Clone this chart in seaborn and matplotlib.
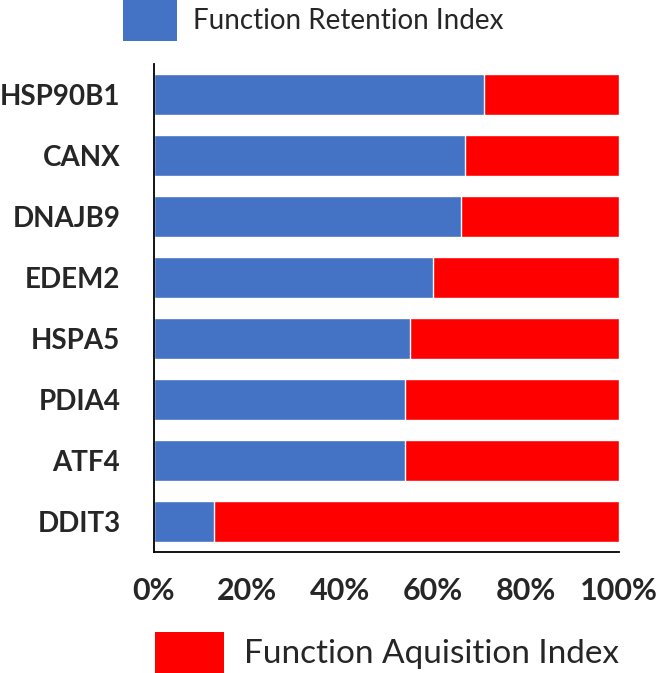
import matplotlib
matplotlib.use("Agg")
import matplotlib.pyplot as plt
import seaborn as sns
import pandas as pd
from matplotlib.patches import Patch
from matplotlib.ticker import PercentFormatter

geni = ["HSP90B1", "CANX", "DNAJB9", "EDEM2", "HSPA5", "PDIA4", "ATF4", "DDIT3"]
retention = [71, 67, 66, 60, 55, 54, 54, 13]
acquisition = [29, 33, 34, 40, 45, 46, 46, 87]

blu = "#4472C4"
rosso = "#FF0000"

df = pd.DataFrame({"gene": geni, "retention": retention, "acquisition": acquisition})
df["totale"] = df["retention"] + df["acquisition"]

sns.set_style("white")
plt.rcParams["font.family"] = ["Lato", "DejaVu Sans"]

fig = plt.figure(figsize=(6.57, 6.73), dpi=100)
ax = fig.add_axes([0.234, 0.180, 0.708, 0.725])

# barra rossa intera, poi la parte blu sopra
sns.barplot(data=df, x="totale", y="gene", color=rosso, width=0.67,
            saturation=1, orient="h", ax=ax)
sns.barplot(data=df, x="retention", y="gene", color=blu, width=0.67,
            saturation=1, orient="h", ax=ax)

ax.set_xlim(0, 100)
ax.set_ylim(7.5, -0.5)
ax.set_xticks([0, 20, 40, 60, 80, 100])
ax.xaxis.set_major_formatter(PercentFormatter(decimals=0))
ax.set_xlabel("")
ax.set_ylabel("")

for s in ["top", "right"]:
    ax.spines[s].set_visible(False)
for s in ["left", "bottom"]:
    ax.spines[s].set_color("black")
    ax.spines[s].set_linewidth(1.3)

ax.tick_params(axis="x", direction="out", length=8, width=1.3, color="black",
               pad=10, labelsize=22)
ax.tick_params(axis="y", direction="out", length=6, width=1.3, color="black",
               pad=18, labelsize=20)
for lab in ax.get_xticklabels() + ax.get_yticklabels():
    lab.set_fontweight("bold")

fig.legend(handles=[Patch(facecolor=blu, edgecolor="none")],
           labels=["Function Retention Index"], loc="upper left",
           bbox_to_anchor=(0.187, 1.0), frameon=False, fontsize=20,
           handlelength=1.94, handleheight=1.89, handletextpad=0.58,
           borderaxespad=0, borderpad=0)
fig.legend(handles=[Patch(facecolor=rosso, edgecolor="none")],
           labels=["Function Aquisition Index"], loc="lower left",
           bbox_to_anchor=(0.236, 0.0), frameon=False, fontsize=24,
           handlelength=2.06, handleheight=1.52, handletextpad=0.6,
           borderaxespad=0, borderpad=0)

fig.savefig("out.png", dpi=100)
